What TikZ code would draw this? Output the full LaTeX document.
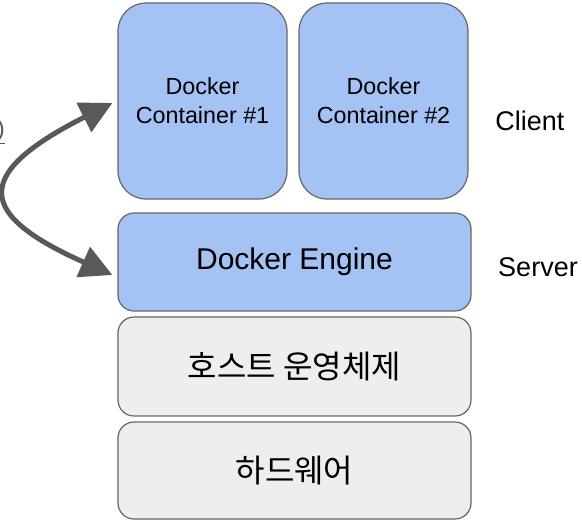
\documentclass[tikz,border=0pt]{standalone}
\usepackage{fontspec}
\setmainfont{Liberation Sans}
\newfontfamily\kofont{Noto Sans CJK KR}
\usetikzlibrary{arrows.meta}
\definecolor{boxblue}{HTML}{A4C2F4}
\definecolor{boxgray}{HTML}{EEEEEE}
\definecolor{edgegray}{HTML}{666666}
\definecolor{arrowgray}{HTML}{595959}
\begin{document}
\begin{tikzpicture}[x=1pt,y=-1pt,
  layerbox/.style={draw=edgegray, line width=1.2pt, rounded corners=16pt, minimum width=353pt, inner sep=0pt, align=center},
  contbox/.style={draw=edgegray, line width=1.2pt, fill=boxblue, rounded corners=28pt, minimum width=169pt, minimum height=196pt, inner sep=0pt, align=center, font=\fontsize{23.3}{29}\selectfont},
  sidelabel/.style={font=\fontsize{27}{32}\selectfont},
  bigarrow/.style={draw=arrowgray, line width=5pt, {Triangle[length=32pt,width=32pt]}-{Triangle[length=32pt,width=32pt]}}
]
\useasboundingbox (0,0) rectangle (582,523);
\clip (0,0) rectangle (582,523);
\fill[white] (0,0) rectangle (582,523);

\node[contbox] (c1) at (202.5,101) {Docker\\Container \#1};
\node[contbox] (c2) at (383.5,101) {Docker\\Container \#2};
\node[layerbox, fill=boxblue, minimum height=98pt, font=\fontsize{30}{34}\selectfont] (eng) at (294.5,262) {\raisebox{-2pt}{Docker Engine}};
\node[layerbox, fill=boxgray, minimum height=99pt, font=\kofont\fontsize{32}{38}\selectfont] (os) at (294.5,366.5) {호스트 운영체제};
\node[layerbox, fill=boxgray, minimum height=97pt, font=\kofont\fontsize{32}{38}\selectfont] (hw) at (294.5,470.5) {하드웨어};

\node[sidelabel] (client) at (530,121) {Client};
\node[sidelabel] (server) at (538,267) {Server};

\node[anchor=east, text=arrowgray, inner sep=0pt, font=\fontsize{23}{28}\selectfont] (frag) at (5,132) {\underline{)}};

\draw[bigarrow] ([xshift=-5pt,yshift=-2pt]c1.west) .. controls (-30,175) and (-22,215) .. ([xshift=-5pt,yshift=-13pt]eng.west);
\end{tikzpicture}
\end{document}
